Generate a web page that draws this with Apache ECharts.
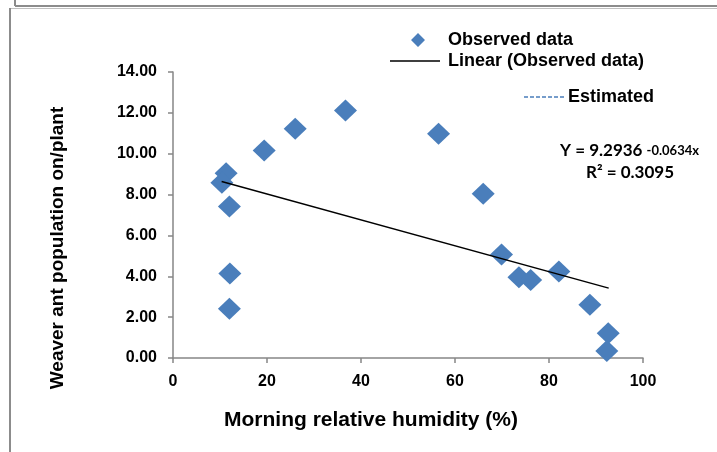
<!DOCTYPE html>
<html>
<head>
<meta charset="utf-8">
<script src="https://cdn.jsdelivr.net/npm/echarts@6/dist/echarts.min.js"></script>
<style>
html,body{margin:0;padding:0;background:#fff;}
#chart{width:717px;height:452px;}
</style>
</head>
<body>
<div id="chart"></div>
<script>
// Observed data: morning relative humidity (%) vs weaver ant population
var humidity = [11.3, 10.4, 12.0, 12.1, 12.0, 19.4, 26.0, 36.7, 56.5, 66.0, 69.9, 73.6, 76.1, 82.1, 88.7, 92.6, 92.3];
var antPopulation = [9.04, 8.58, 7.41, 4.14, 2.41, 10.16, 11.22, 12.11, 10.98, 8.04, 5.07, 3.95, 3.82, 4.23, 2.61, 1.21, 0.34];
// Linear trend line endpoints (Y = 9.2936 - 0.0634x)
var trendX = [10.35, 92.7];
var trendY = [8.64, 3.42];
var xTicks = [0, 20, 40, 60, 80, 100];
var yTicks = [0, 2, 4, 6, 8, 10, 12, 14];

var FONT = "'Liberation Sans', Arial, sans-serif";
var chart = echarts.init(document.getElementById('chart'), null, {renderer: 'canvas'});

var scatterData = humidity.map(function (h, i) { return [h, antPopulation[i]]; });
var trendData = trendX.map(function (x, i) { return [x, trendY[i]]; });

// legend icons (bounding points keep them from being stretched)
var diamondIcon = 'path://M0,0 L0,0.01 L0.01,0 Z M50,14 L50,13.99 L49.99,14 Z M28,0 L35,7 L28,14 L21,7 Z';
var lineIcon = 'path://M0,0 L0,0.01 L0.01,0 Z M50,14 L50,13.99 L49.99,14 Z M0,6.3 L50,6.3 L50,7.7 L0,7.7 Z';
var dashIcon = (function () {
  var p = 'path://M0,0 L0,0.01 L0.01,0 Z M41,14 L41,13.99 L40.99,14 Z';
  for (var x = 0; x < 41; x += 6) {
    var e = Math.min(x + 4, 41);
    p += ' M' + x + ',6.3 L' + e + ',6.3 L' + e + ',7.7 L' + x + ',7.7 Z';
  }
  return p;
})();

var option = {
  backgroundColor: '#ffffff',
  animation: false,
  grid: {left: 173, right: 74, top: 72, bottom: 94, containLabel: false},
  xAxis: {
    type: 'value', min: xTicks[0], max: xTicks[xTicks.length - 1], interval: 20,
    axisLine: {lineStyle: {color: '#868686', width: 1.5}},
    axisTick: {show: true, length: 5, lineStyle: {color: '#868686', width: 1.5}},
    splitLine: {show: false},
    axisLabel: {color: '#000', fontFamily: FONT, fontWeight: 'bold', fontSize: 16, margin: 16}
  },
  yAxis: {
    type: 'value', min: yTicks[0], max: yTicks[yTicks.length - 1], interval: 2,
    axisLine: {show: true, lineStyle: {color: '#868686', width: 1.5}},
    axisTick: {show: true, length: 5, lineStyle: {color: '#868686', width: 1.5}},
    splitLine: {show: false},
    axisLabel: {color: '#000', fontFamily: FONT, fontWeight: 'bold', fontSize: 16, margin: 16,
      formatter: function (v) { return v.toFixed(2); }}
  },
  legend: [{
    orient: 'vertical', left: 390, top: 31, padding: 0, itemWidth: 50, itemHeight: 14, itemGap: 3,
    textStyle: {color: '#000', fontFamily: FONT, fontWeight: 'bold', fontSize: 18, padding: [0, 0, 0, 3]},
    data: [
      {name: 'Observed data', icon: diamondIcon, itemStyle: {color: '#4A7EBB', opacity: 1}},
      {name: 'Linear (Observed data)', icon: lineIcon, itemStyle: {color: '#000', opacity: 1}}
    ]
  }, {
    orient: 'vertical', left: 524, top: 88, padding: 0, itemWidth: 41, itemHeight: 14, itemGap: 4,
    textStyle: {color: '#000', fontFamily: FONT, fontWeight: 'bold', fontSize: 18, padding: [0, 0, 0, -2]},
    data: [{name: 'Estimated', icon: dashIcon, itemStyle: {color: '#4A7EBB', opacity: 1}}]
  }],
  series: [{
    name: 'Observed data', type: 'scatter', symbol: 'diamond', symbolSize: [23, 22],
    itemStyle: {color: '#4A7EBB', opacity: 1}, data: scatterData, z: 3
  }, {
    name: 'Linear (Observed data)', type: 'line', data: trendData, showSymbol: false, symbol: 'none',
    lineStyle: {color: '#000', width: 1.5}, itemStyle: {color: '#000'}, z: 4
  }, {
    name: 'Estimated', type: 'line', data: [], symbol: 'none',
    lineStyle: {color: '#4A7EBB', width: 1.5, type: 'dashed'}, itemStyle: {color: '#4A7EBB'}
  }],
  graphic: [
    {type: 'line', shape: {x1: 15, y1: 0, x2: 15, y2: 6}, style: {stroke: '#8c8c8c', lineWidth: 2}},
    {type: 'line', shape: {x1: 15, y1: 6, x2: 717, y2: 6}, style: {stroke: '#8c8c8c', lineWidth: 2}},
    {type: 'line', shape: {x1: 9, y1: 8.5, x2: 717, y2: 8.5}, style: {stroke: '#c0c0c0', lineWidth: 1}},
    {type: 'line', shape: {x1: 10, y1: 8, x2: 10, y2: 452}, style: {stroke: '#8c8c8c', lineWidth: 2}},
    {type: 'text', x: 371, y: 420, style: {text: 'Morning relative humidity (%)', fill: '#000',
      font: 'bold 21px ' + FONT, textAlign: 'center', textVerticalAlign: 'middle'}},
    {type: 'text', x: 58, y: 248, rotation: Math.PI / 2, style: {text: 'Weaver ant population on/plant', fill: '#000',
      font: 'bold 19px ' + FONT, textAlign: 'center', textVerticalAlign: 'middle'}},
    {type: 'text', x: 560, y: 151, style: {
      text: '{a|Y = 9.2936 }{b|-0.0634x}', textVerticalAlign: 'middle',
      rich: {a: {fontFamily: 'Lato, sans-serif', fontWeight: 'bold', fontSize: 17, fill: '#000'},
             b: {fontFamily: 'Lato, sans-serif', fontWeight: 'bold', fontSize: 13, fill: '#000'}}}},
    {type: 'text', x: 630, y: 173, style: {
      text: 'R² = 0.3095', fill: '#000', font: 'bold 17px Lato, sans-serif',
      textAlign: 'center', textVerticalAlign: 'middle'}}
  ]
};
chart.setOption(option);
</script>
</body>
</html>
